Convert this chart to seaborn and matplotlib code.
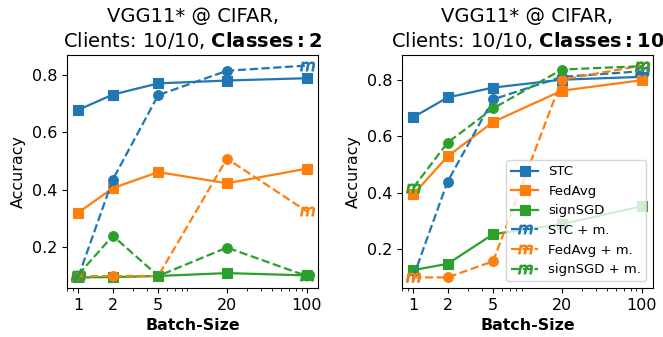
import numpy as np
import pandas as pd
import matplotlib
matplotlib.use("Agg")
import matplotlib.pyplot as plt
import seaborn as sns

batch_sizes = [1, 2, 5, 20, 100]
tick_labels = ["1", "2", "5", "20", "100"]

# Classes: 2
c2_stc = [0.679, 0.732, 0.771, 0.781, 0.789]
c2_fedavg = [0.321, 0.406, 0.462, 0.423, 0.474]
c2_signsgd = [0.095, 0.096, 0.100, 0.110, 0.102]
c2_stc_m = [0.098, 0.436, 0.730, 0.815, 0.833]
c2_fedavg_m = [0.099, 0.100, 0.100, 0.509, 0.325]
c2_signsgd_m = [0.105, 0.240, 0.100, 0.199, 0.100]

# Classes: 10
c10_stc = [0.667, 0.737, 0.772, 0.800, 0.810]
c10_fedavg = [0.393, 0.528, 0.650, 0.761, 0.798]
c10_signsgd = [0.125, 0.147, 0.252, 0.288, 0.351]
c10_stc_m = [0.100, 0.439, 0.730, 0.810, 0.830]
c10_fedavg_m = [0.099, 0.099, 0.156, 0.800, 0.850]
c10_signsgd_m = [0.417, 0.577, 0.698, 0.836, 0.848]

method_names = ["STC", "FedAvg", "signSGD"]
colors = ["#1f77b4", "#ff7f0e", "#2ca02c"]

panels = [
    ("VGG11* @ CIFAR,\nClients: 10/10, $\\bf{Classes: 2}$",
     [c2_stc, c2_fedavg, c2_signsgd], [c2_stc_m, c2_fedavg_m, c2_signsgd_m]),
    ("VGG11* @ CIFAR,\nClients: 10/10, $\\bf{Classes: 10}$",
     [c10_stc, c10_fedavg, c10_signsgd], [c10_stc_m, c10_fedavg_m, c10_signsgd_m]),
]

fig, axes = plt.subplots(1, 2, figsize=(6.63, 3.37), dpi=100)
fig.subplots_adjust(left=67 / 663, right=653 / 663, bottom=1 - 288 / 337,
                    top=1 - 55 / 337, wspace=0.333)

for i, (ax, (title, solid, dashed)) in enumerate(zip(axes, panels)):
    for name, col, vals in zip(method_names, colors, solid):
        df = pd.DataFrame({"x": batch_sizes, "y": vals})
        sns.lineplot(data=df, x="x", y="y", ax=ax, color=col, marker="s",
                     markersize=7, markeredgecolor=col, markeredgewidth=0.8,
                     linewidth=1.6, label=name, legend=False)
    for name, col, vals in zip(method_names, colors, dashed):
        df = pd.DataFrame({"x": batch_sizes, "y": vals})
        sns.lineplot(data=df, x="x", y="y", ax=ax, color=col, marker="$m$",
                     markevery=[0, len(vals) - 1], markersize=10,
                     markeredgecolor=col, markeredgewidth=0.8,
                     linewidth=1.6, linestyle="--", label=name + " + m.",
                     legend=False)
        inner = df.iloc[1:-1]
        sns.lineplot(data=inner, x="x", y="y", ax=ax, color=col, marker="o",
                     markersize=7, markeredgecolor=col, markeredgewidth=0.8,
                     linestyle="", label="_nolegend_", legend=False)
    ax.set_xscale("log")
    ax.set_xticks(batch_sizes)
    ax.set_xticklabels(tick_labels)
    ax.set_yticks([0.2, 0.4, 0.6, 0.8])
    ax.tick_params(axis="both", labelsize=11.5)
    ax.set_xlabel("Batch-Size", fontsize=11.4, fontweight="bold")
    ax.set_ylabel("Accuracy", fontsize=11.4)
    ax.set_title(title, fontsize=14)
    if i == 1:
        ax.legend(loc="lower right", fontsize=9.5, handlelength=2.0,
                  labelspacing=0.5, borderpad=0.4)

fig.savefig("out.png", dpi=100)
